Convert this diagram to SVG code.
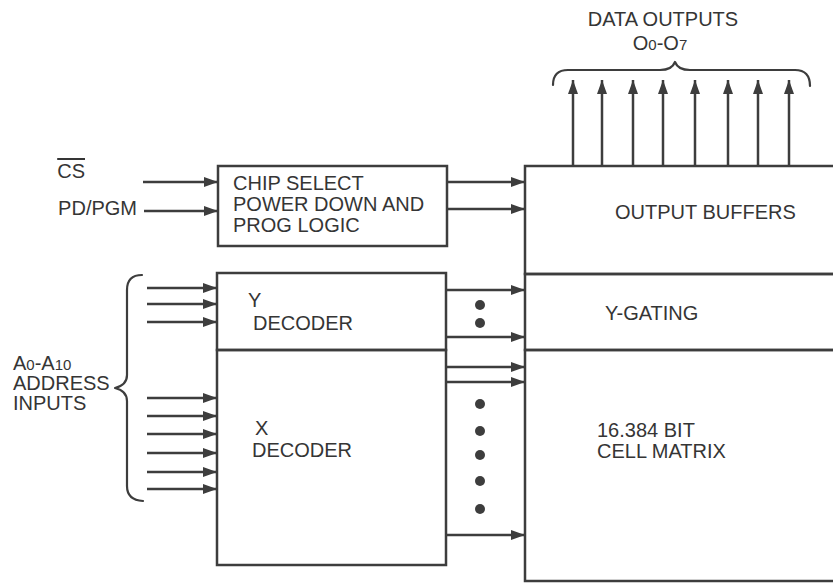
<svg xmlns="http://www.w3.org/2000/svg" width="833" height="583" viewBox="0 0 833 583">
<style>
.box{fill:none;stroke:#3d3d3d;stroke-width:2.5}
.ar{fill:none;stroke:#3d3d3d;stroke-width:2.5;marker-end:url(#ah)}
.br{fill:none;stroke:#3d3d3d;stroke-width:2.2;stroke-linecap:round;stroke-linejoin:round}
.t{font-family:"Liberation Sans",Arial,sans-serif;font-size:20px;fill:#353535}
.sub{font-size:15px}
.dot{fill:#3d3d3d}
</style>
<defs>
<marker id="ah" viewBox="0 0 14 10" refX="14" refY="5" markerWidth="14" markerHeight="10" markerUnits="userSpaceOnUse" orient="auto">
<path d="M0,0 L14,5 L0,10 z" fill="#3d3d3d"/>
</marker>
</defs>
<rect width="833" height="583" fill="#ffffff"/>

<g id="data-outputs-label">
<text class="t" x="663" y="26" text-anchor="middle">DATA OUTPUTS</text>
<text class="t" x="660" y="50" text-anchor="middle">O<tspan class="sub">0</tspan>-O<tspan class="sub">7</tspan></text>
<path class="br" d="M553,85 Q553,70 568,70 L660,70 Q672,70 675,62 Q678,70 690,70 L795,70 Q810,70 810,86"/>
</g>

<g id="cs-label"><text class="t" x="85" y="178" text-anchor="end" style="text-decoration:overline">CS</text></g>
<g id="pdpgm-label"><text class="t" x="137" y="215" text-anchor="end">PD/PGM</text></g>

<g id="chip-select">
<rect class="box" x="218" y="166" width="229" height="80"/>
<text class="t" x="233" y="190">CHIP SELECT</text>
<text class="t" x="233" y="211">POWER DOWN AND</text>
<text class="t" x="233" y="232">PROG LOGIC</text>
</g>

<g id="output-buffers">
<rect class="box" x="525" y="166" width="320" height="108"/>
<text class="t" x="615" y="219">OUTPUT BUFFERS</text>
</g>
<g id="y-gating">
<rect class="box" x="525" y="274" width="320" height="76"/>
<text class="t" x="605" y="320">Y-GATING</text>
</g>
<g id="cell-matrix">
<rect class="box" x="525" y="350" width="320" height="231"/>
<text class="t" x="597" y="437">16.384 BIT</text>
<text class="t" x="597" y="458">CELL MATRIX</text>
</g>

<g id="y-decoder">
<rect class="box" x="217" y="273" width="229" height="77"/>
<text class="t" x="248" y="307">Y</text>
<text class="t" x="253" y="330">DECODER</text>
</g>
<g id="x-decoder">
<rect class="box" x="217" y="350" width="229" height="215"/>
<text class="t" x="255" y="435">X</text>
<text class="t" x="252" y="457">DECODER</text>
</g>

<g id="address-label">
<text class="t" x="13" y="370">A<tspan class="sub">0</tspan>-A<tspan class="sub">10</tspan></text>
<text class="t" x="13" y="390">ADDRESS</text>
<text class="t" x="13" y="410">INPUTS</text>
<path class="br" d="M142,275 Q127,275 127,290 L127,375 Q127,385 115,388 Q127,391 127,401 L127,486 Q127,500 143,501"/>
</g>

<g id="connectors">
<line class="ar" x1="143" y1="182" x2="218" y2="182"/>
<line class="ar" x1="144" y1="211" x2="218" y2="211"/>
<line class="ar" x1="447" y1="182" x2="525" y2="182"/>
<line class="ar" x1="447" y1="209" x2="525" y2="209"/>
<line class="ar" x1="573" y1="166" x2="573" y2="80"/>
<line class="ar" x1="602" y1="166" x2="602" y2="80"/>
<line class="ar" x1="633" y1="166" x2="633" y2="80"/>
<line class="ar" x1="663" y1="166" x2="663" y2="80"/>
<line class="ar" x1="695" y1="166" x2="695" y2="80"/>
<line class="ar" x1="728" y1="166" x2="728" y2="80"/>
<line class="ar" x1="758" y1="166" x2="758" y2="80"/>
<line class="ar" x1="789" y1="166" x2="789" y2="80"/>
<line class="ar" x1="147" y1="288" x2="217" y2="288"/>
<line class="ar" x1="147" y1="304" x2="217" y2="304"/>
<line class="ar" x1="147" y1="322" x2="217" y2="322"/>
<line class="ar" x1="147" y1="398" x2="217" y2="398"/>
<line class="ar" x1="147" y1="416" x2="217" y2="416"/>
<line class="ar" x1="147" y1="434" x2="217" y2="434"/>
<line class="ar" x1="147" y1="453" x2="217" y2="453"/>
<line class="ar" x1="147" y1="472" x2="217" y2="472"/>
<line class="ar" x1="147" y1="489" x2="217" y2="489"/>
<line class="ar" x1="446" y1="290" x2="525" y2="290"/>
<line class="ar" x1="446" y1="337" x2="525" y2="337"/>
<line class="ar" x1="446" y1="367" x2="525" y2="367"/>
<line class="ar" x1="446" y1="382" x2="525" y2="382"/>
<line class="ar" x1="446" y1="535" x2="525" y2="535"/>
<circle class="dot" cx="480" cy="305" r="5"/>
<circle class="dot" cx="480" cy="323" r="5"/>
<circle class="dot" cx="480" cy="404" r="5"/>
<circle class="dot" cx="480" cy="431" r="5"/>
<circle class="dot" cx="480" cy="455" r="5"/>
<circle class="dot" cx="480" cy="481" r="5"/>
<circle class="dot" cx="480" cy="509" r="5"/>
</g>
</svg>
